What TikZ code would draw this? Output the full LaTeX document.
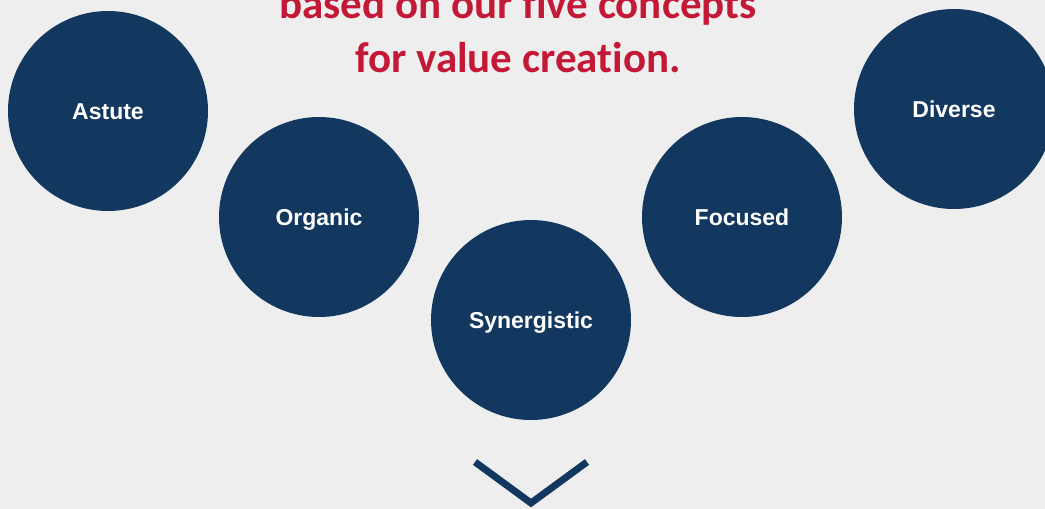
\documentclass[tikz,border=0pt]{standalone}
\usepackage{fontspec}
\setmainfont{Liberation Sans}
\newfontfamily\titlefont{Carlito}[Ligatures={NoCommon,NoRare,NoDiscretionary}]
\definecolor{navy}{HTML}{13385F}
\definecolor{crimson}{HTML}{C41837}
\definecolor{paper}{HTML}{EEEEEE}
\begin{document}
\begin{tikzpicture}[x=1pt, y=-1pt,
    concept/.style={circle, fill=navy, minimum size=200pt, inner sep=0pt,
        text height=16.5pt, text depth=0pt,
        text=white, font=\fontsize{23}{27}\selectfont\bfseries},
    heading/.style={anchor=base, text=crimson, inner sep=0pt,
        font=\titlefont\fontsize{43}{54}\selectfont\bfseries}]
            \fill[paper] (0,0) rectangle (1045,509);
            \useasboundingbox (0,0) rectangle (1045,509);
            \node[heading] (t1) at (518, 18) {based on our five concepts};
            \node[heading] (t2) at (518, 72) {for value creation.};
            \node[concept] (1) at (108, 111) {Astute};
            \node[concept] (2) at (319, 217) {Organic};
            \node[concept] (3) at (531, 320) {Synergistic};
            \node[concept] (4) at (742, 217) {Focused};
            \node[concept] (5) at (954, 109) {Diverse};
            \coordinate (vl) at (475, 462);
            \coordinate (vt) at (531, 503);
            \coordinate (vr) at (587, 462);
            \draw[navy, line width=7pt, miter limit=10] (vl) -- (vt) -- (vr);
        \end{tikzpicture}
\end{document}
